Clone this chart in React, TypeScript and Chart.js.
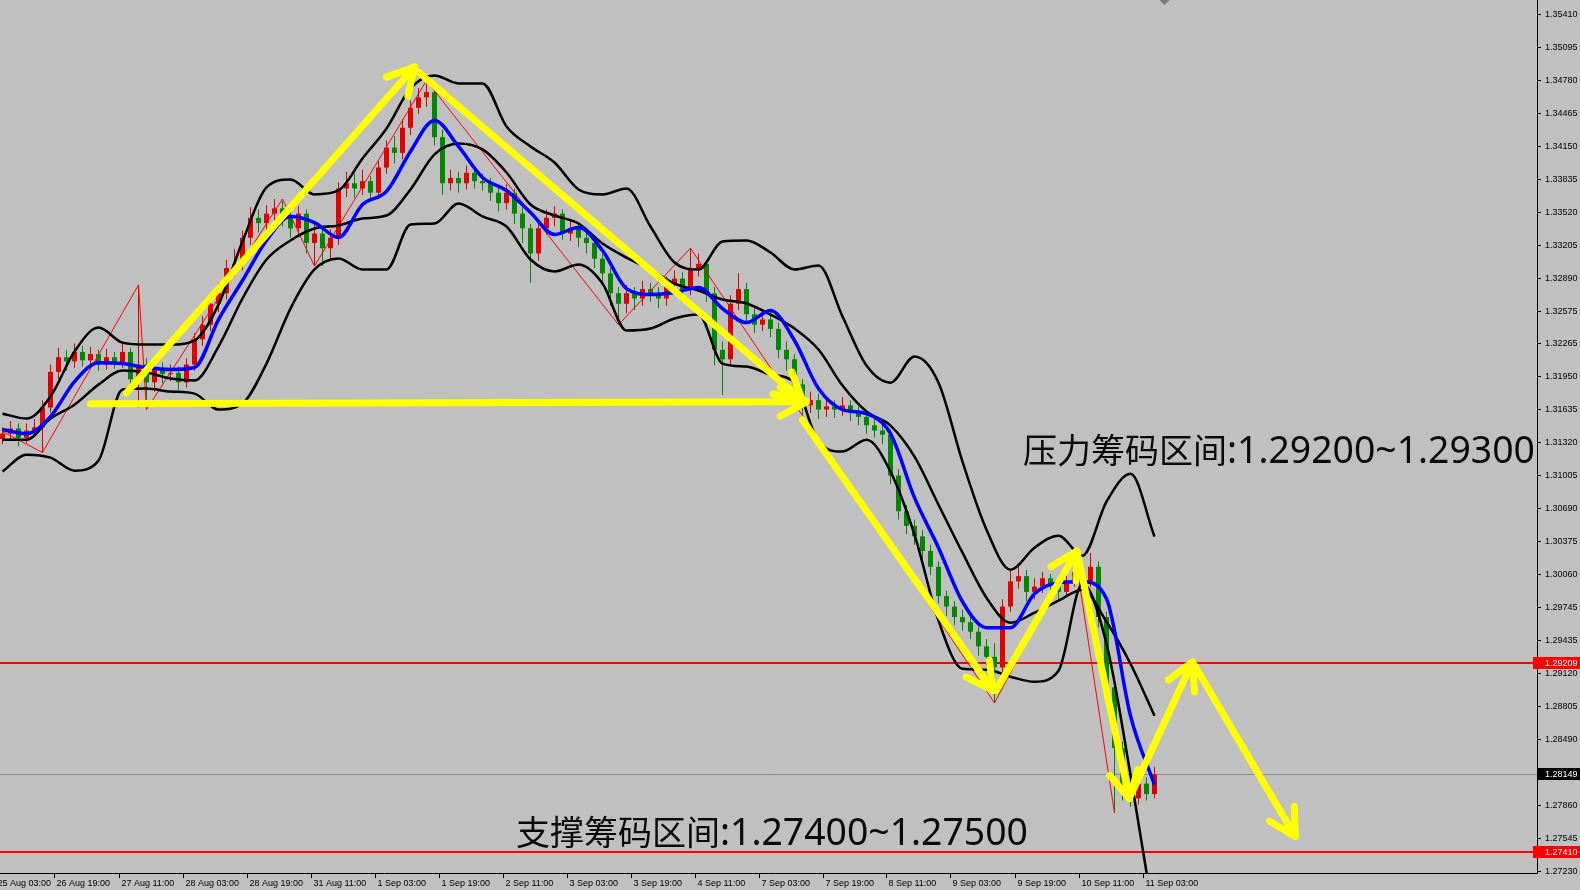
import React, { useEffect, useRef } from "react";
import { Chart, registerables } from "chart.js";

Chart.register(...registerables);

// ---------- DATA ----------
// 2-hour candles; x unit = 1 hour (bar k sits at hour 2k)
const firstOpen = 1.3135;
const closes = [
  1.3140, 1.3145, 1.3136, 1.3143, 1.3146, 1.3165, 1.3199, 1.3213, 1.3209, 1.3218,
  1.3210, 1.3216, 1.3206, 1.3213, 1.3208, 1.3218, 1.3192, 1.3206, 1.3189, 1.3202,
  1.3197, 1.3198, 1.3189, 1.3206, 1.3230, 1.3244, 1.3264, 1.3274, 1.3298, 1.3302,
  1.3327, 1.3346, 1.3341, 1.3350, 1.3355, 1.3346, 1.3336, 1.3350, 1.3322, 1.3331,
  1.3317, 1.3327, 1.3374, 1.3379, 1.3374, 1.3381, 1.3370, 1.3394, 1.3413, 1.3408,
  1.3432, 1.3451, 1.3461, 1.3466, 1.3423, 1.3379, 1.3384, 1.3379, 1.3389, 1.3381,
  1.3379, 1.3370, 1.3360, 1.3370, 1.3350, 1.3336, 1.3312, 1.3336, 1.3346, 1.3350,
  1.3331, 1.3336, 1.3327, 1.3322, 1.3307, 1.3293, 1.3274, 1.3264, 1.3274, 1.3269,
  1.3278, 1.3274, 1.3269, 1.3283, 1.3288, 1.3278, 1.3298, 1.3302, 1.3274, 1.3220,
  1.3211, 1.3264, 1.3278, 1.3254, 1.3244, 1.3249, 1.3240, 1.3220, 1.3211, 1.3187,
  1.3167, 1.3172, 1.3163, 1.3166, 1.3163, 1.3167, 1.3160, 1.3156, 1.3148, 1.3143,
  1.3139, 1.3100, 1.3066, 1.3052, 1.3042, 1.3028, 1.3013, 1.2985, 1.2975, 1.2965,
  1.2960, 1.2951, 1.2937, 1.2927, 1.2917, 1.2975, 1.2999, 1.3004, 1.2989, 1.2994,
  1.3002, 1.2996, 1.2989, 1.2999, 1.3008, 1.2999, 1.3013, 1.2965, 1.2898, 1.2840,
  1.2802, 1.2792, 1.2806, 1.2796, 1.2815,
];
const highs = [
  1.3146, 1.3152, 1.3150, 1.3150, 1.3154, 1.3172, 1.3206, 1.3222, 1.3220, 1.3226,
  1.3224, 1.3223, 1.3220, 1.3221, 1.3218, 1.3226, 1.3222, 1.3282, 1.3212, 1.3210,
  1.3208, 1.3206, 1.3204, 1.3212, 1.3236, 1.3252, 1.3272, 1.3284, 1.3306, 1.3316,
  1.3334, 1.3356, 1.3354, 1.3358, 1.3364, 1.3362, 1.3352, 1.3357, 1.3354, 1.3340,
  1.3336, 1.3335, 1.3380, 1.3390, 1.3388, 1.3392, 1.3386, 1.3400, 1.3420, 1.3424,
  1.3440, 1.3458, 1.3470, 1.3477, 1.3472, 1.3430, 1.3392, 1.3390, 1.3396, 1.3394,
  1.3388, 1.3384, 1.3376, 1.3378, 1.3374, 1.3356, 1.3340, 1.3342, 1.3354, 1.3357,
  1.3354, 1.3344, 1.3342, 1.3334, 1.3328, 1.3312, 1.3298, 1.3280, 1.3282, 1.3280,
  1.3286, 1.3284, 1.3280, 1.3290, 1.3296, 1.3294, 1.3317, 1.3312, 1.3306, 1.3280,
  1.3228, 1.3272, 1.3293, 1.3284, 1.3260, 1.3258, 1.3256, 1.3246, 1.3228, 1.3216,
  1.3192, 1.3180, 1.3178, 1.3174, 1.3172, 1.3175, 1.3172, 1.3166, 1.3160, 1.3155,
  1.3150, 1.3144, 1.3106, 1.3072, 1.3058, 1.3048, 1.3034, 1.3018, 1.2990, 1.2980,
  1.2972, 1.2966, 1.2956, 1.2944, 1.2940, 1.2982, 1.3010, 1.3014, 1.3010, 1.3002,
  1.3008, 1.3006, 1.3000, 1.3006, 1.3028, 1.3016, 1.3026, 1.3018, 1.2970, 1.2904,
  1.2846, 1.2810, 1.2814, 1.2812, 1.2822,
];
const lows = [
  1.3130, 1.3135, 1.3128, 1.3131, 1.3138, 1.3122, 1.3160, 1.3192, 1.3200, 1.3203,
  1.3204, 1.3205, 1.3200, 1.3201, 1.3202, 1.3203, 1.3185, 1.3165, 1.3163, 1.3180,
  1.3188, 1.3190, 1.3182, 1.3184, 1.3200, 1.3224, 1.3238, 1.3256, 1.3268, 1.3290,
  1.3296, 1.3320, 1.3332, 1.3334, 1.3343, 1.3338, 1.3327, 1.3330, 1.3312, 1.3300,
  1.3300, 1.3306, 1.3320, 1.3366, 1.3365, 1.3368, 1.3362, 1.3364, 1.3388, 1.3398,
  1.3402, 1.3425, 1.3445, 1.3452, 1.3415, 1.3368, 1.3372, 1.3370, 1.3373, 1.3374,
  1.3372, 1.3362, 1.3352, 1.3354, 1.3340, 1.3322, 1.3284, 1.3305, 1.3330, 1.3338,
  1.3325, 1.3324, 1.3318, 1.3312, 1.3298, 1.3282, 1.3262, 1.3244, 1.3255, 1.3258,
  1.3262, 1.3266, 1.3260, 1.3262, 1.3276, 1.3270, 1.3272, 1.3290, 1.3266, 1.3205,
  1.3177, 1.3205, 1.3258, 1.3246, 1.3236, 1.3238, 1.3232, 1.3212, 1.3200, 1.3178,
  1.3158, 1.3160, 1.3154, 1.3156, 1.3155, 1.3157, 1.3152, 1.3148, 1.3140, 1.3136,
  1.3130, 1.3092, 1.3058, 1.3044, 1.3034, 1.3020, 1.3005, 1.2978, 1.2966, 1.2957,
  1.2952, 1.2944, 1.2928, 1.2918, 1.2883, 1.2905, 1.2970, 1.2992, 1.2980, 1.2982,
  1.2988, 1.2988, 1.2980, 1.2984, 1.2994, 1.2990, 1.2994, 1.2955, 1.2888, 1.2778,
  1.2790, 1.2784, 1.2786, 1.2790, 1.2792,
];

// indicator lines sampled every 6 hours
const bandHours = [
  0, 6, 12, 18, 24, 30, 36, 42, 48, 54, 60, 66, 72, 78, 84, 90, 96, 102, 108, 114,
  120, 126, 132, 138, 144, 150, 156, 162, 168, 174, 180, 186, 192, 198, 204, 210,
  216, 222, 228, 234, 240, 246, 252, 258, 264, 270, 276, 282, 288,
];
const upperBand = [
  1.31591, 1.31544, 1.31754, 1.32184, 1.32413, 1.32269, 1.3225, 1.3225, 1.32289, 1.32632,
  1.33234, 1.3375, 1.33826, 1.33683, 1.33721, 1.34027, 1.34313, 1.34695, 1.34819, 1.34743,
  1.34743, 1.34332, 1.34141, 1.33988, 1.33731, 1.33683, 1.3374, 1.33377, 1.33033, 1.32967,
  1.33234, 1.33244, 1.33129, 1.32967, 1.33005, 1.32518, 1.3205, 1.31887, 1.32136, 1.31887,
  1.31133, 1.30484, 1.30102, 1.30312, 1.30426, 1.30235, 1.30751, 1.31018, 1.30417,
];
const middleBand = [
  1.31343, 1.31343, 1.31544, 1.31677, 1.31868, 1.32002, 1.31983, 1.31926, 1.31907, 1.32231,
  1.3269, 1.33062, 1.33244, 1.33358, 1.33387, 1.33454, 1.33482, 1.33731, 1.34065, 1.3417,
  1.34113, 1.33893, 1.33587, 1.33482, 1.33406, 1.33215, 1.33081, 1.32967, 1.32833, 1.32766,
  1.3268, 1.32642, 1.32537, 1.32403, 1.32203, 1.31859, 1.31611, 1.31477, 1.31181, 1.30722,
  1.30264, 1.29834, 1.29595, 1.29691, 1.29806, 1.29911, 1.29605, 1.29204, 1.28707,
];
const lowerBand = [
  1.31038, 1.312, 1.31171, 1.31047, 1.31143, 1.31821, 1.3183, 1.31802, 1.31782, 1.3163,
  1.31687, 1.32069, 1.32594, 1.32967, 1.33072, 1.32967, 1.32967, 1.33396, 1.33406, 1.33597,
  1.33473, 1.33377, 1.33062, 1.32948, 1.33014, 1.32833, 1.32384, 1.32403, 1.32499, 1.32537,
  1.32069, 1.3204, 1.31964, 1.31887, 1.31324, 1.31229, 1.31343, 1.31038, 1.30436, 1.29615,
  1.29156, 1.29147, 1.2908, 1.29032, 1.29137, 1.29968, 1.29395, 1.28144, 1.2674,
];
const maLine = [
  1.31439, 1.314, 1.31563, 1.31897, 1.32078, 1.32069, 1.32031, 1.32012, 1.32031, 1.32489,
  1.32862, 1.33244, 1.33473, 1.33415, 1.33272, 1.33587, 1.33712, 1.34094, 1.3439, 1.34141,
  1.33845, 1.33721, 1.33511, 1.33301, 1.33368, 1.33148, 1.32785, 1.32728, 1.32747, 1.32795,
  1.32594, 1.3246, 1.32575, 1.32289, 1.3183, 1.3163, 1.31591, 1.314, 1.30789, 1.30312,
  1.29796, 1.29548, 1.29548, 1.29872, 1.29977, 1.29987, 1.29825, 1.28707, 1.28048,
];

const zigzagHours = [0, 10, 34, 36, 70, 78, 106, 154, 172, 248, 268, 278];
const zigzagPrices = [1.3142, 1.3122, 1.3282, 1.3163, 1.3364, 1.33, 1.3477, 1.3244, 1.3317, 1.2883, 1.3028, 1.2778];

const priceTicks = [
  1.3541, 1.35095, 1.3478, 1.34465, 1.3415, 1.33835, 1.3352, 1.33205, 1.3289, 1.32575,
  1.32265, 1.3195, 1.31635, 1.3132, 1.31005, 1.3069, 1.30375, 1.3006, 1.29745, 1.29435,
  1.2912, 1.28805, 1.2849, 1.2786, 1.27545, 1.2723,
];
const timeTickHours = [-2, 13, 29, 45, 61, 77, 93, 109, 125, 141, 157, 173, 189, 205, 221, 237, 253, 269, 285];
const timeTickLabels = [
  "25 Aug 03:00", "26 Aug 19:00", "27 Aug 11:00", "28 Aug 03:00", "28 Aug 19:00",
  "31 Aug 11:00", "1 Sep 03:00", "1 Sep 19:00", "2 Sep 11:00", "3 Sep 03:00",
  "3 Sep 19:00", "4 Sep 11:00", "7 Sep 03:00", "7 Sep 19:00", "8 Sep 11:00",
  "9 Sep 03:00", "9 Sep 19:00", "10 Sep 11:00", "11 Sep 03:00",
];

const resistanceLevel = 1.29209;
const supportLevel = 1.2741;
const lastPrice = 1.28149;

// hand-drawn yellow arrows: [hour, price] from -> to (arrow head at the end)
const arrowStrokes: [number, number][][] = [
  [[31, 1.3179], [103, 1.349]],
  [[104, 1.3485], [200, 1.3172]],
  [[22, 1.31685], [201, 1.31704]],
  [[200, 1.3153], [247.6, 1.2895]],
  [[248.4, 1.2895], [268.6, 1.3028]],
  [[268.6, 1.3028], [281.7, 1.2792]],
  [[281.7, 1.2792], [297.5, 1.2922]],
  [[297.5, 1.2922], [323.2, 1.27555]],
];

const noteCjk = ["压力筹码区间", "支撑筹码区间"];
const noteNum = [":1.29200~1.29300", ":1.27400~1.27500"];

// ---------- STYLE ----------
const BG = "#c0c0c0";
const UP = "#e00000";
const DOWN = "#008800";
const AXIS_FONT = '9px "Liberation Sans", Arial, sans-serif';

const opens = closes.map((_, k) => (k === 0 ? firstOpen : closes[k - 1]));
const candleColors = closes.map((c, k) => (c >= opens[k] ? UP : DOWN));
const barHours = closes.map((_, k) => k * 2);

const overlayPlugin = {
  id: "mt4Overlay",
  beforeDraw(chart: any) {
    const { ctx, width, height } = chart;
    ctx.save();
    ctx.fillStyle = BG;
    ctx.fillRect(0, 0, width, height);
    ctx.restore();
  },
  beforeDatasetsDraw(chart: any) {
    const { ctx, chartArea: a, scales } = chart;
    const y = scales.y;
    ctx.save();
    const yl = Math.round(y.getPixelForValue(lastPrice)) + 0.5;
    ctx.strokeStyle = "#8c8c8c";
    ctx.lineWidth = 1;
    ctx.beginPath();
    ctx.moveTo(a.left, yl);
    ctx.lineTo(a.right, yl);
    ctx.stroke();
    ctx.fillStyle = "#ff0000";
    for (const lvl of [resistanceLevel, supportLevel]) {
      const yy = Math.round(y.getPixelForValue(lvl));
      ctx.fillRect(a.left, yy - 1, a.right - a.left, 2);
    }
    ctx.restore();
  },
  afterDatasetsDraw(chart: any) {
    const { ctx, scales } = chart;
    const xs = scales.x;
    const ys = scales.y;
    ctx.save();
    ctx.strokeStyle = "#ffff00";
    ctx.lineWidth = 7;
    ctx.lineCap = "round";
    ctx.lineJoin = "round";
    for (const stroke of arrowStrokes) {
      const p = stroke.map(([h, v]) => [xs.getPixelForValue(h), ys.getPixelForValue(v)]);
      ctx.beginPath();
      ctx.moveTo(p[0][0], p[0][1]);
      for (let i = 1; i < p.length; i++) ctx.lineTo(p[i][0], p[i][1]);
      ctx.stroke();
      const [x1, y1] = p[p.length - 2];
      const [x2, y2] = p[p.length - 1];
      const ang = Math.atan2(y2 - y1, x2 - x1);
      const len = 30;
      const spread = 0.5;
      ctx.beginPath();
      ctx.moveTo(x2 - len * Math.cos(ang - spread), y2 - len * Math.sin(ang - spread));
      ctx.lineTo(x2, y2);
      ctx.lineTo(x2 - len * Math.cos(ang + spread), y2 - len * Math.sin(ang + spread));
      ctx.stroke();
    }
    ctx.restore();
  },
  afterDraw(chart: any) {
    const { ctx, chartArea: a, scales, width } = chart;
    const xs = scales.x;
    const ys = scales.y;
    ctx.save();
    // axes
    ctx.strokeStyle = "#000";
    ctx.lineWidth = 1;
    ctx.beginPath();
    ctx.moveTo(a.right + 0.5, 0);
    ctx.lineTo(a.right + 0.5, a.bottom + 0.5);
    ctx.lineTo(0, a.bottom + 0.5);
    ctx.stroke();
    ctx.font = AXIS_FONT;
    ctx.fillStyle = "#000";
    ctx.textBaseline = "middle";
    ctx.textAlign = "left";
    for (const v of priceTicks) {
      const yy = Math.round(ys.getPixelForValue(v)) + 0.5;
      ctx.beginPath();
      ctx.moveTo(a.right, yy);
      ctx.lineTo(a.right + 4, yy);
      ctx.stroke();
      ctx.fillText(v.toFixed(5), a.right + 8, yy);
    }
    ctx.textBaseline = "alphabetic";
    timeTickHours.forEach((h, i) => {
      const xx = Math.round(xs.getPixelForValue(h)) + 0.5;
      ctx.beginPath();
      ctx.moveTo(xx, a.bottom);
      ctx.lineTo(xx, a.bottom + 5);
      ctx.stroke();
      ctx.fillText(timeTickLabels[i], xx + 2, a.bottom + 13);
    });
    // price tags
    const tag = (v: number, bg: string, left: number) => {
      const yy = Math.round(ys.getPixelForValue(v));
      ctx.fillStyle = bg;
      ctx.fillRect(left, yy - 6, width - left, 12);
      ctx.fillStyle = "#fff";
      ctx.textBaseline = "middle";
      ctx.fillText(v.toFixed(5), a.right + 8, yy + 0.5);
    };
    tag(resistanceLevel, "#ff0000", a.right - 4);
    tag(supportLevel, "#ff0000", a.right - 4);
    tag(lastPrice, "#000", a.right + 1);
    // shift marker
    ctx.fillStyle = "#7a7a7a";
    const tx = xs.getPixelForValue(290.5);
    ctx.beginPath();
    ctx.moveTo(tx - 5, 0);
    ctx.lineTo(tx + 5, 0);
    ctx.lineTo(tx, 5);
    ctx.closePath();
    ctx.fill();
    // notes
    const notePos = [
      [a.left + 1023, 463],
      [a.left + 516, 845],
    ];
    ctx.fillStyle = "#0a0a0a";
    ctx.textBaseline = "alphabetic";
    ctx.textAlign = "left";
    notePos.forEach(([nx, ny], i) => {
      ctx.font = '34px "Noto Sans CJK SC", sans-serif';
      ctx.fillText(noteCjk[i], nx, ny);
      const w = ctx.measureText(noteCjk[i]).width;
      ctx.font = '38px "Noto Sans", sans-serif';
      ctx.fillText(noteNum[i], nx + w, ny, 308);
    });
    ctx.restore();
  },
};

export default function App() {
  const canvasRef = useRef<HTMLCanvasElement | null>(null);

  useEffect(() => {
    if (!canvasRef.current) return;
    const line = (label: string, values: number[], color: string, width: number, order: number) => ({
      type: "line" as const,
      label,
      data: bandHours.map((h, i) => ({ x: h, y: values[i] })),
      borderColor: color,
      borderWidth: width,
      pointRadius: 0,
      fill: false,
      cubicInterpolationMode: "monotone" as const,
      order,
    });
    const chart = new Chart(canvasRef.current, {
      type: "bar",
      data: {
        datasets: [
          line("MA", maLine, "#0000ff", 3.5, 0),
          line("Upper band", upperBand, "#000000", 2.5, 1),
          line("Middle band", middleBand, "#000000", 2.5, 1),
          line("Lower band", lowerBand, "#000000", 2.5, 1),
          {
            type: "line",
            label: "ZigZag",
            data: zigzagHours.map((h, i) => ({ x: h, y: zigzagPrices[i] })),
            borderColor: "#ff0000",
            borderWidth: 1,
            pointRadius: 0,
            tension: 0,
            fill: false,
            order: 2,
          },
          {
            type: "bar",
            label: "Bodies",
            data: barHours.map((h, k) => ({ x: h, y: [opens[k], closes[k]] })),
            backgroundColor: candleColors,
            barThickness: 5,
            grouped: false,
            minBarLength: 1,
            inflateAmount: 0,
            borderWidth: 0,
            order: 3,
          },
          {
            type: "bar",
            label: "Wicks",
            data: barHours.map((h, k) => ({ x: h, y: [lows[k], highs[k]] })),
            backgroundColor: candleColors,
            barThickness: 1,
            grouped: false,
            inflateAmount: 0,
            borderWidth: 0,
            order: 4,
          },
        ] as any,
      },
      options: {
        responsive: false,
        animation: false,
        devicePixelRatio: 1,
        events: [],
        layout: { padding: { left: 0, top: 0, right: 43, bottom: 17 } },
        plugins: { legend: { display: false }, tooltip: { enabled: false }, title: { display: false } },
        scales: {
          x: { type: "linear", min: -0.625, max: 383.625, display: false, offset: false },
          y: { type: "linear", min: 1.27207, max: 1.35539, display: false },
        },
      } as any,
      plugins: [overlayPlugin],
    });
    return () => chart.destroy();
  }, []);

  return (
    <div style={{ position: "fixed", left: 0, top: 0, width: 1580, height: 890, background: BG }}>
      <canvas ref={canvasRef} width={1580} height={890} style={{ display: "block" }} />
    </div>
  );
}
